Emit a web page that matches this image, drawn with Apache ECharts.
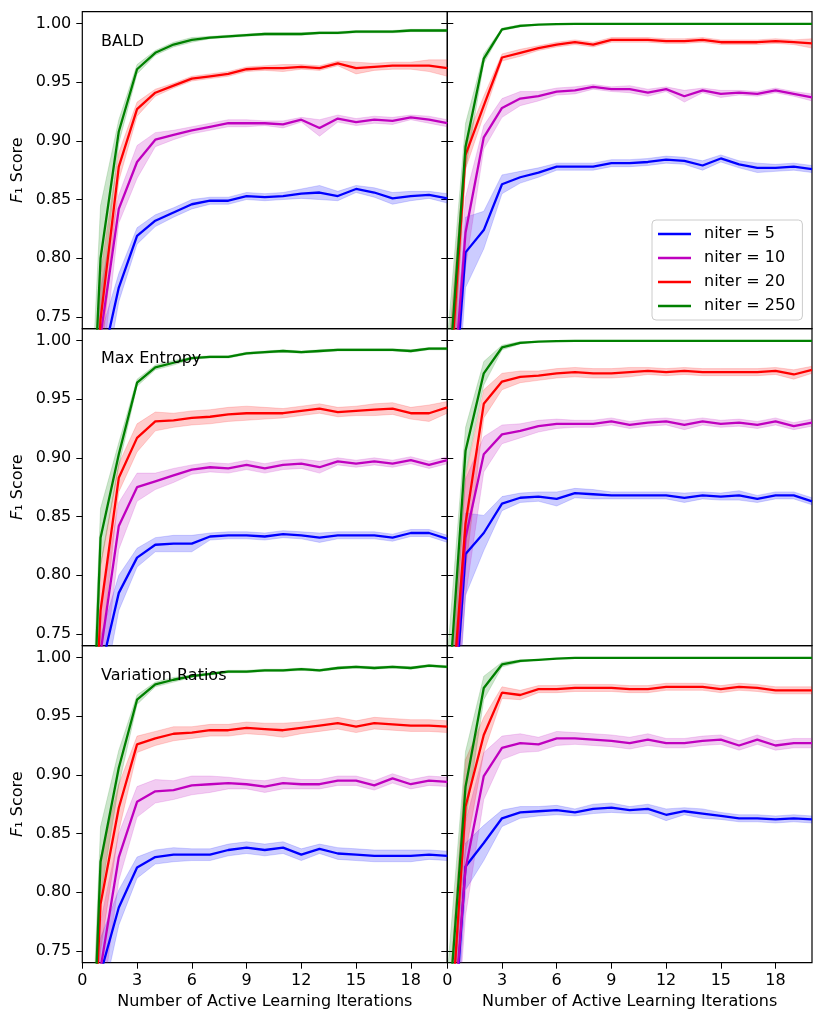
<!DOCTYPE html>
<html>
<head>
<meta charset="utf-8">
<script src="https://cdn.jsdelivr.net/npm/echarts@6/dist/echarts.min.js"></script>
<style>
html,body{margin:0;padding:0;background:#fff}
#chart{width:830px;height:1025px}
</style>
</head>
<body>
<div id="chart"></div>
<script>
var iterations = [0,1,2,3,4,5,6,7,8,9,10,11,12,13,14,15,16,17,18,19,20];
var xTicks = [0,3,6,9,12,15,18];
var yTicks = [0.75,0.80,0.85,0.90,0.95,1.00];
var niterNames = ['niter = 5','niter = 10','niter = 20','niter = 250'];
var colors = ['#0000ff','#bf00bf','#ff0000','#008000'];

// BALD, left column
var baldL5   = [0.45,0.705,0.775,0.819,0.832,0.839,0.846,0.849,0.849,0.853,0.852,0.853,0.855,0.856,0.853,0.859,0.856,0.851,0.853,0.854,0.851];
var baldL10  = [0.45,0.734,0.842,0.882,0.901,0.905,0.909,0.912,0.915,0.915,0.915,0.914,0.918,0.911,0.919,0.916,0.918,0.917,0.920,0.918,0.915];
var baldL20  = [0.45,0.748,0.878,0.927,0.941,0.947,0.953,0.955,0.957,0.961,0.962,0.962,0.963,0.962,0.966,0.962,0.963,0.964,0.964,0.964,0.962];
var baldL250 = [0.47,0.800,0.908,0.961,0.975,0.982,0.986,0.988,0.989,0.990,0.991,0.991,0.991,0.992,0.992,0.993,0.993,0.993,0.994,0.994,0.994];
var baldL5Sd   = [0.05,0.03,0.012,0.007,0.005,0.004,0.004,0.003,0.003,0.003,0.003,0.003,0.004,0.006,0.004,0.003,0.004,0.005,0.004,0.003,0.004];
var baldL10Sd  = [0.05,0.04,0.012,0.014,0.006,0.004,0.003,0.003,0.003,0.003,0.002,0.003,0.002,0.007,0.003,0.003,0.003,0.003,0.002,0.003,0.003];
var baldL20Sd  = [0.05,0.04,0.012,0.006,0.003,0.002,0.002,0.002,0.002,0.002,0.002,0.003,0.002,0.002,0.002,0.005,0.003,0.003,0.003,0.005,0.007];
var baldL250Sd = [0.05,0.045,0.01,0.004,0.002,0.002,0.002,0.001,0.001,0.001,0.001,0.001,0.001,0.001,0.001,0.001,0.001,0.001,0.001,0.001,0.001];

// BALD, right column
var baldR5   = [0.60,0.805,0.824,0.863,0.869,0.873,0.878,0.878,0.878,0.881,0.881,0.882,0.884,0.883,0.879,0.885,0.880,0.877,0.877,0.878,0.876];
var baldR10  = [0.62,0.822,0.903,0.928,0.936,0.938,0.942,0.943,0.946,0.944,0.944,0.941,0.944,0.938,0.943,0.940,0.941,0.940,0.943,0.940,0.937];
var baldR20  = [0.66,0.888,0.930,0.971,0.975,0.979,0.982,0.984,0.982,0.986,0.986,0.986,0.985,0.985,0.986,0.984,0.984,0.984,0.985,0.984,0.983];
var baldR250 = [0.68,0.895,0.970,0.995,0.998,0.999,0.9995,0.9996,0.9996,0.9996,0.9996,0.9996,0.9996,0.9996,0.9996,0.9996,0.9996,0.9996,0.9996,0.9996,0.9996];
var baldR5Sd   = [0.05,0.03,0.016,0.008,0.005,0.004,0.003,0.003,0.003,0.003,0.003,0.003,0.003,0.003,0.004,0.003,0.003,0.004,0.003,0.003,0.003];
var baldR10Sd  = [0.05,0.03,0.01,0.008,0.006,0.004,0.003,0.003,0.002,0.002,0.003,0.003,0.002,0.005,0.002,0.003,0.002,0.002,0.002,0.002,0.003];
var baldR20Sd  = [0.05,0.012,0.008,0.003,0.003,0.002,0.002,0.002,0.002,0.002,0.002,0.002,0.002,0.002,0.002,0.002,0.002,0.002,0.002,0.002,0.004];
var baldR250Sd = [0.05,0.02,0.004,0.001,0.001,0,0,0,0,0,0,0,0,0,0,0,0,0,0,0,0];

// Max Entropy, left column
var entL5   = [0.45,0.718,0.785,0.815,0.826,0.827,0.827,0.833,0.834,0.834,0.833,0.835,0.834,0.832,0.834,0.834,0.834,0.832,0.836,0.836,0.831];
var entL10  = [0.45,0.734,0.842,0.875,0.880,0.885,0.890,0.892,0.891,0.894,0.891,0.894,0.895,0.892,0.897,0.895,0.897,0.895,0.898,0.894,0.898];
var entL20  = [0.45,0.770,0.883,0.917,0.931,0.932,0.934,0.935,0.937,0.938,0.938,0.938,0.940,0.942,0.939,0.940,0.941,0.942,0.938,0.938,0.943];
var entL250 = [0.42,0.832,0.903,0.964,0.977,0.981,0.985,0.986,0.986,0.989,0.990,0.991,0.990,0.991,0.992,0.992,0.992,0.992,0.991,0.993,0.993];
var entL5Sd   = [0.05,0.03,0.015,0.008,0.006,0.007,0.007,0.003,0.003,0.003,0.003,0.003,0.003,0.004,0.003,0.003,0.003,0.003,0.003,0.003,0.003];
var entL10Sd  = [0.05,0.04,0.02,0.012,0.007,0.006,0.004,0.004,0.004,0.004,0.004,0.004,0.004,0.005,0.003,0.003,0.003,0.003,0.003,0.003,0.003];
var entL20Sd  = [0.05,0.04,0.012,0.012,0.008,0.006,0.006,0.006,0.006,0.006,0.005,0.004,0.004,0.004,0.004,0.004,0.005,0.005,0.005,0.007,0.005];
var entL250Sd = [0.05,0.025,0.01,0.003,0.002,0.002,0.001,0.001,0.001,0.001,0.001,0.001,0.001,0.001,0.001,0.001,0.001,0.001,0.001,0.001,0.001];

// Max Entropy, right column
var entR5   = [0.60,0.818,0.836,0.861,0.866,0.867,0.865,0.870,0.869,0.868,0.868,0.868,0.868,0.866,0.868,0.867,0.868,0.865,0.868,0.868,0.863];
var entR10  = [0.62,0.832,0.903,0.920,0.923,0.927,0.929,0.929,0.929,0.931,0.928,0.930,0.931,0.928,0.931,0.929,0.930,0.928,0.931,0.927,0.930];
var entR20  = [0.64,0.844,0.946,0.965,0.969,0.970,0.972,0.973,0.972,0.972,0.973,0.974,0.973,0.974,0.973,0.973,0.973,0.973,0.974,0.971,0.975];
var entR250 = [0.68,0.906,0.972,0.994,0.998,0.999,0.9995,0.9996,0.9996,0.9996,0.9996,0.9996,0.9996,0.9996,0.9996,0.9996,0.9996,0.9996,0.9996,0.9996,0.9996];
var entR5Sd   = [0.05,0.035,0.015,0.006,0.004,0.004,0.006,0.004,0.004,0.003,0.003,0.003,0.003,0.004,0.003,0.003,0.004,0.003,0.003,0.003,0.003];
var entR10Sd  = [0.05,0.05,0.015,0.008,0.006,0.005,0.004,0.003,0.003,0.003,0.003,0.003,0.003,0.004,0.003,0.003,0.003,0.003,0.003,0.003,0.003];
var entR20Sd  = [0.05,0.04,0.012,0.007,0.005,0.004,0.004,0.004,0.004,0.004,0.004,0.003,0.003,0.003,0.003,0.003,0.003,0.003,0.003,0.004,0.003];
var entR250Sd = [0.05,0.02,0.01,0.002,0.001,0,0,0,0,0,0,0,0,0,0,0,0,0,0,0,0];

// Variation Ratios, left column
var varL5   = [0.45,0.731,0.787,0.821,0.830,0.832,0.832,0.832,0.836,0.838,0.836,0.838,0.832,0.837,0.833,0.832,0.831,0.831,0.831,0.832,0.831];
var varL10  = [0.45,0.735,0.830,0.877,0.886,0.887,0.891,0.892,0.893,0.892,0.890,0.893,0.892,0.892,0.895,0.895,0.891,0.897,0.892,0.895,0.894];
var varL20  = [0.45,0.790,0.872,0.926,0.931,0.935,0.936,0.938,0.938,0.940,0.939,0.938,0.940,0.942,0.944,0.941,0.944,0.943,0.942,0.942,0.941];
var varL250 = [0.42,0.826,0.906,0.964,0.977,0.981,0.984,0.986,0.988,0.988,0.989,0.989,0.990,0.989,0.991,0.992,0.991,0.992,0.991,0.993,0.992];
var varL5Sd   = [0.05,0.03,0.015,0.009,0.006,0.006,0.005,0.005,0.005,0.005,0.005,0.005,0.005,0.004,0.005,0.005,0.005,0.005,0.005,0.004,0.004];
var varL10Sd  = [0.05,0.04,0.02,0.013,0.01,0.008,0.008,0.007,0.005,0.004,0.005,0.005,0.004,0.004,0.004,0.004,0.004,0.004,0.004,0.004,0.004];
var varL20Sd  = [0.05,0.04,0.02,0.007,0.006,0.006,0.005,0.005,0.005,0.005,0.005,0.006,0.005,0.005,0.005,0.005,0.005,0.005,0.005,0.005,0.005];
var varL250Sd = [0.05,0.03,0.015,0.004,0.002,0.002,0.001,0.001,0.001,0.001,0.001,0.001,0.001,0.001,0.001,0.001,0.001,0.001,0.001,0.001,0.001];

// Variation Ratios, right column
var varR5   = [0.60,0.822,0.842,0.863,0.868,0.869,0.870,0.868,0.871,0.872,0.870,0.871,0.866,0.869,0.867,0.865,0.863,0.863,0.862,0.863,0.862];
var varR10  = [0.62,0.820,0.899,0.923,0.927,0.926,0.931,0.931,0.930,0.929,0.927,0.930,0.927,0.927,0.929,0.930,0.925,0.930,0.925,0.927,0.927];
var varR20  = [0.64,0.873,0.934,0.970,0.968,0.973,0.973,0.974,0.974,0.974,0.973,0.973,0.975,0.975,0.975,0.973,0.975,0.974,0.972,0.972,0.972];
var varR250 = [0.68,0.890,0.974,0.994,0.997,0.998,0.999,0.9996,0.9996,0.9996,0.9996,0.9996,0.9996,0.9996,0.9996,0.9996,0.9996,0.9996,0.9996,0.9996,0.9996];
var varR5Sd   = [0.05,0.02,0.015,0.007,0.005,0.004,0.004,0.003,0.004,0.004,0.003,0.004,0.005,0.003,0.004,0.003,0.003,0.003,0.003,0.003,0.003];
var varR10Sd  = [0.05,0.04,0.02,0.01,0.008,0.006,0.006,0.005,0.005,0.005,0.005,0.005,0.004,0.004,0.004,0.004,0.004,0.004,0.004,0.004,0.004];
var varR20Sd  = [0.05,0.04,0.015,0.005,0.004,0.003,0.003,0.003,0.003,0.003,0.003,0.003,0.003,0.003,0.003,0.003,0.003,0.003,0.003,0.003,0.003];
var varR250Sd = [0.05,0.03,0.01,0.002,0.001,0,0,0,0,0,0,0,0,0,0,0,0,0,0,0,0];

var panels = [
    {row: 0, col: 0, label: 'BALD',             mean: [baldL5, baldL10, baldL20, baldL250], sd: [baldL5Sd, baldL10Sd, baldL20Sd, baldL250Sd]},
    {row: 0, col: 1, label: '',                 mean: [baldR5, baldR10, baldR20, baldR250], sd: [baldR5Sd, baldR10Sd, baldR20Sd, baldR250Sd]},
    {row: 1, col: 0, label: 'Max Entropy',      mean: [entL5, entL10, entL20, entL250],     sd: [entL5Sd, entL10Sd, entL20Sd, entL250Sd]},
    {row: 1, col: 1, label: '',                 mean: [entR5, entR10, entR20, entR250],     sd: [entR5Sd, entR10Sd, entR20Sd, entR250Sd]},
    {row: 2, col: 0, label: 'Variation Ratios', mean: [varL5, varL10, varL20, varL250],     sd: [varL5Sd, varL10Sd, varL20Sd, varL250Sd]},
    {row: 2, col: 1, label: '',                 mean: [varR5, varR10, varR20, varR250],     sd: [varR5Sd, varR10Sd, varR20Sd, varR250Sd]}
];

var FONT = 'DejaVu Sans';
var colLeft = [82.3, 447.3];
var colWidth = [365, 364.7];
var rowTop = [11.7, 328.7, 645.7];
var rowHeight = 317;

// shaded band: one polygon (mean - sd ... mean + sd) drawn through the axis scales
function bandRenderer(rows) {
    return function (params, api) {
        if (params.dataIndex !== 0) return null;
        var upper = [], lower = [];
        rows.forEach(function (r) {
            upper.push(api.coord([r[0], r[2]]));
            lower.unshift(api.coord([r[0], r[1]]));
        });
        var cs = params.coordSys;
        return {
            type: 'group',
            clipPath: {type: 'rect', shape: {x: cs.x, y: cs.y, width: cs.width, height: cs.height}},
            children: [{
                type: 'polygon',
                shape: {points: upper.concat(lower)},
                style: {fill: api.visual('color'), opacity: 0.2, stroke: api.visual('color'), lineWidth: 0.8}
            }]
        };
    };
}

function tickAxis(k, position, inside, labels) {
    var leftLabels = labels;
    return {
        type: 'value', gridIndex: k, min: 0.74, max: 1.01, position: position,
        axisLine: {show: false},
        splitLine: {show: false},
        axisTick: {show: true, inside: inside, length: 6, lineStyle: {color: '#000', width: 1}, customValues: yTicks},
        axisLabel: {show: leftLabels, customValues: yTicks, color: '#000', fontSize: 16, fontFamily: FONT, margin: 11,
            formatter: function (v) { return v.toFixed(2); }},
        name: leftLabels ? '{i|F}₁ Score' : '',
        nameLocation: 'middle', nameGap: 56, nameRotate: 90,
        nameTextStyle: {color: '#000', fontSize: 16, fontFamily: FONT,
            rich: {i: {fontStyle: 'italic', fontSize: 16, fontFamily: FONT, color: '#000'}}}
    };
}

var grids = [], xAxes = [], yAxes = [], series = [], titles = [];

panels.forEach(function (p, k) {
    var bottomRow = p.row === 2;
    var leftCol = p.col === 0;
    grids.push({
        left: colLeft[p.col], top: rowTop[p.row], width: colWidth[p.col], height: rowHeight,
        show: true, borderColor: '#000', borderWidth: 1.2, backgroundColor: 'transparent',
        containLabel: false, outerBoundsMode: 'none'
    });
    xAxes.push({
        type: 'value', gridIndex: k, min: 0, max: 20,
        axisLine: {show: false},
        splitLine: {show: false},
        axisTick: {show: bottomRow, length: 6, lineStyle: {color: '#000', width: 1}, customValues: xTicks},
        axisLabel: {show: bottomRow, customValues: xTicks, color: '#000', fontSize: 16, fontFamily: FONT, margin: 10,
            showMinLabel: true, showMaxLabel: true, hideOverlap: false},
        name: bottomRow ? 'Number of Active Learning Iterations' : '',
        nameLocation: 'middle', nameGap: 31,
        nameTextStyle: {color: '#000', fontSize: 16, fontFamily: FONT}
    });
    var yIndex = yAxes.length;
    if (leftCol) {
        // labelled axis on the left, inward ticks on the shared edge
        yAxes.push(tickAxis(k, 'left', false, true));
        yAxes.push(tickAxis(k, 'right', true, false));
    } else {
        yAxes.push(tickAxis(k, 'right', false, false));
    }
    if (p.label) {
        titles.push({
            text: p.label, left: 101, top: rowTop[p.row] + 22, padding: 0,
            textStyle: {color: '#000', fontSize: 16, fontWeight: 'normal', fontFamily: FONT}
        });
    }
    for (var j = 0; j < 4; j++) {
        var m = p.mean[j], s = p.sd[j], c = colors[j];
        var rows = iterations.map(function (x, i) { return [x, m[i] - s[i], m[i] + s[i]]; });
        series.push({
            type: 'custom', xAxisIndex: k, yAxisIndex: yIndex, silent: true, clip: true,
            color: c,
            encode: {x: 0, y: [1, 2]},
            renderItem: bandRenderer(rows),
            data: rows
        });
        series.push({
            type: 'line', name: niterNames[j], xAxisIndex: k, yAxisIndex: yIndex,
            symbol: 'none', clip: true, color: c, silent: true,
            lineStyle: {color: c, width: 2.3},
            data: iterations.map(function (x, i) { return [x, m[i]]; })
        });
    }
});

var chart = echarts.init(document.getElementById('chart'), null, {renderer: 'canvas'});
chart.setOption({
    animation: false,
    backgroundColor: '#fff',
    title: titles,
    grid: grids,
    xAxis: xAxes,
    yAxis: yAxes,
    legend: {
        data: niterNames,
        orient: 'vertical',
        left: 652, top: 220,
        icon: 'rect', itemWidth: 33, itemHeight: 2.5, itemGap: 8,
        padding: [6, 7, 6, 6],
        backgroundColor: 'rgba(255,255,255,0.8)',
        borderColor: '#cccccc', borderWidth: 1, borderRadius: 4,
        selectedMode: false,
        textStyle: {color: '#000', fontSize: 16, fontFamily: FONT, padding: [0, 0, 0, 8]}
    },
    series: series
});
</script>
</body>
</html>
